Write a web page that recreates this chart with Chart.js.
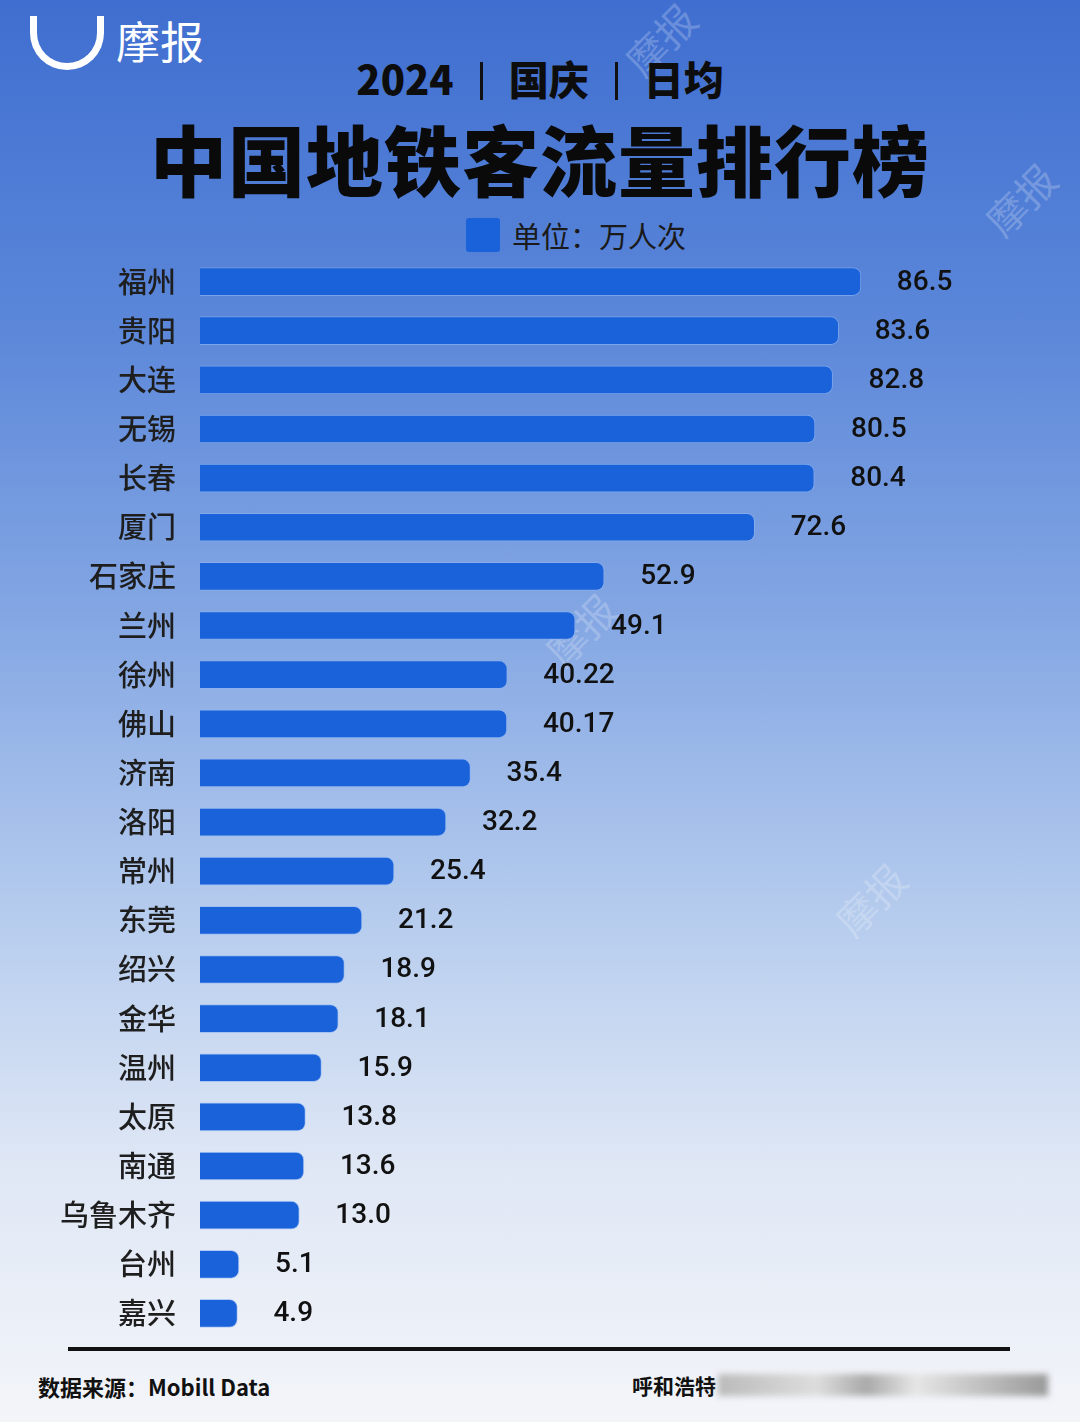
<!DOCTYPE html>
<html lang="zh">
  <head>
    <meta charset="UTF-8" />
    <title>中国地铁客流量排行榜</title>
    <style>
      html, body { margin: 0; padding: 0; }
      body {
        width: 1080px;
        height: 1422px;
        position: relative;
        overflow: hidden;
        font-family: "Noto Sans CJK SC", "Noto Sans", sans-serif;
        background: linear-gradient(to bottom, #3f6ed0 0%, #5a86d9 22%, #87a9e4 45%, #b7cdee 65%, #dfe7f5 82%, #f3f5f9 100%);
      }
      #logo { position: absolute; left: 30px; top: 10px; display: flex; align-items: center; }
      #logo .icon {
        width: 74px; height: 54px; border: 7px solid #fff; border-top: none;
        border-radius: 0 0 40px 40px; box-sizing: border-box; margin-right: 12px; margin-top: 6px;
      }
      #logo .txt { color: #fff; font-size: 44px; line-height: 1; }
      #sub {
        position: absolute; left: 0; width: 1080px; top: 52px; text-align: center;
        font-size: 40px; font-weight: 900; color: #0d0d0d; line-height: 52px;
      }
      #sub .sep { display: inline-block; width: 3px; height: 38px; background: #111; vertical-align: -5px; margin: 0 26px; }
      #title {
        position: absolute; left: 0; width: 1080px; top: 112px; text-align: center;
        font-size: 77px; font-weight: 900; color: #0a0a0a; line-height: 92px; letter-spacing: 1px;
      }
      #legend { position: absolute; left: 466px; top: 214px; display: flex; align-items: center; }
      #legend .box { width: 34px; height: 34px; background: #1a62d9; border-radius: 3px; margin-right: 12px; }
      #legend .txt { font-size: 29px; color: #1a1a1a; }
      #myChart { position: absolute; left: 0; top: 257px; }
      #rule { position: absolute; left: 68px; top: 1347px; width: 942px; height: 4px; background: #111; }
      #source { position: absolute; left: 38px; top: 1370px; font-size: 22px; font-weight: 700; color: #111; }
      #city { position: absolute; left: 632px; top: 1370px; font-size: 21px; font-weight: 700; color: #111; display: flex; align-items: center; }
      #city .blur { width: 330px; height: 22px; margin-left: 2px; background: linear-gradient(to right, #bbb, #ddd 30%, #aaa 45%, #e6e6e6 60%, #999 100%); filter: blur(3px); }
      .wm { position: absolute; color: rgba(255,255,255,0.22); font-size: 40px; transform: rotate(-45deg); }
    </style>
  </head>
  <body>
    <div id="logo"><div class="icon"></div><div class="txt">摩报</div></div>
    <div class="wm" style="left: 620px; top: 10px;">摩报</div>
    <div class="wm" style="left: 980px; top: 170px;">摩报</div>
    <div class="wm" style="left: 540px; top: 600px;">摩报</div>
    <div class="wm" style="left: 830px; top: 870px;">摩报</div>
    <div id="sub">2024<span class="sep"></span>国庆<span class="sep"></span>日均</div>
    <div id="title">中国地铁客流量排行榜</div>
    <div id="legend"><div class="box"></div><div class="txt">单位：万人次</div></div>
    <canvas id="myChart" width="1080" height="1081"></canvas>
    <div id="rule"></div>
    <div id="source">数据来源：Mobill Data</div>
    <div id="city">呼和浩特<div class="blur"></div></div>

    <script src="https://cdn.jsdelivr.net/npm/chart.js"></script>
    <script>
      const cities = [
        "福州", "贵阳", "大连", "无锡", "长春", "厦门", "石家庄", "兰州",
        "徐州", "佛山", "济南", "洛阳", "常州", "东莞", "绍兴", "金华",
        "温州", "太原", "南通", "乌鲁木齐", "台州", "嘉兴",
      ];
      const ridership = [
        86.5, 83.6, 82.8, 80.5, 80.4, 72.6, 52.9, 49.1, 40.22, 40.17, 35.4,
        32.2, 25.4, 21.2, 18.9, 18.1, 15.9, 13.8, 13.6, 13.0, 5.1, 4.9,
      ];
      const valueLabels = [
        "86.5", "83.6", "82.8", "80.5", "80.4", "72.6", "52.9", "49.1",
        "40.22", "40.17", "35.4", "32.2", "25.4", "21.2", "18.9", "18.1",
        "15.9", "13.8", "13.6", "13.0", "5.1", "4.9",
      ];

      // draws the number a little to the right of each bar
      const valuePlugin = {
        id: "valuePlugin",
        afterDatasetsDraw(chart) {
          const ctx = chart.ctx;
          const meta = chart.getDatasetMeta(0);
          ctx.save();
          ctx.font = "500 28px Roboto, 'Noto Sans', sans-serif";
          ctx.fillStyle = "#111";
          ctx.textAlign = "left";
          ctx.textBaseline = "middle";
          meta.data.forEach((bar, i) => {
            ctx.fillText(valueLabels[i], bar.x + 36, bar.y + 1);
          });
          ctx.restore();
        },
      };

      const chart = new Chart("myChart", {
        type: "bar",
        data: {
          labels: cities,
          datasets: [
            {
              data: ridership,
              backgroundColor: "#1a62d9",
              borderColor: "rgba(140,180,245,0.6)",
              borderWidth: 1,
              borderRadius: 8,
              barThickness: 28,
            },
          ],
        },
        options: {
          indexAxis: "y",
          responsive: false,
          animation: false,
          layout: { padding: { left: 0, right: 116, top: 0, bottom: 0 } },
          plugins: { legend: { display: false }, tooltip: { enabled: false } },
          scales: {
            x: { display: false, min: 0, max: 100 },
            y: {
              afterFit(scale) {
                scale.width = 200;
                scale.paddingTop = 0;
                scale.paddingBottom = 0;
              },
              border: { display: false },
              grid: { display: false, drawTicks: false },
              ticks: {
                padding: 24,
                color: "#1e1e1e",
                font: { family: "'Noto Sans CJK SC', sans-serif", size: 29, weight: "500" },
              },
            },
          },
        },
        plugins: [valuePlugin],
      });
      console.log(chart.chartArea.top, chart.chartArea.bottom, chart.chartArea.left, chart.chartArea.right);
    </script>
  </body>
</html>
